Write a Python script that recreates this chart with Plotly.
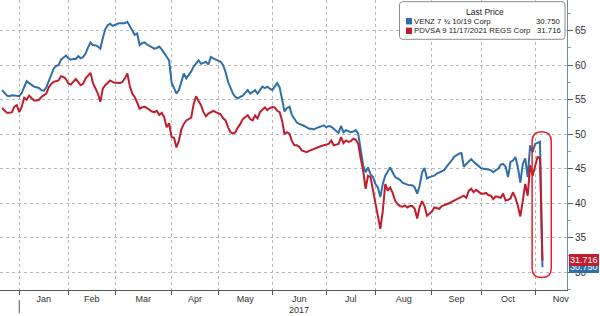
import plotly.graph_objects as go
import pandas as pd

# ---------------- data ----------------
START = "2016-12-21"
HOLIDAYS = ["2016-12-26", "2017-01-02", "2017-01-16", "2017-02-20", "2017-04-14",
            "2017-05-29", "2017-07-04", "2017-09-04", "2017-11-23", "2017-12-25"]

venz = [
    56.4, 56.0, 55.6, 55.5, 55.65, 55.6, 55.6, 55.5, 56.0, 56.8,
    57.7, 57.4, 57.1, 56.9, 56.8, 56.7, 56.4, 56.3, 56.8, 57.8,
    58.8, 59.5, 59.9, 60.0, 60.8, 61.1, 61.4, 61.0, 60.8, 60.9,
    60.9, 61.3, 61.0, 61.2, 61.7, 62.6, 63.3, 62.9, 62.9, 62.7,
    62.4, 63.9, 65.2, 65.8, 66.0, 65.7, 65.9, 66.0, 66.1, 66.1,
    66.1, 66.3, 65.6, 65.0, 64.4, 64.6, 62.9, 63.2, 63.3, 63.0,
    62.8, 62.6, 62.4, 62.5, 62.7, 62.3, 61.7, 61.2, 60.7, 57.5,
    56.6, 55.9, 56.4, 57.5, 58.8, 58.1, 58.6, 59.1, 59.8, 60.2,
    60.7, 60.2, 60.4, 60.5, 60.1, 61.2, 61.0, 60.8, 60.7, 60.5,
    60.0, 59.0, 57.6, 56.6, 55.9, 55.4, 55.2, 55.4, 55.6, 56.0,
    56.4, 55.9, 56.1, 56.4, 55.9, 56.5, 56.9, 56.7, 56.9, 56.6,
    56.4, 56.9, 57.4, 56.8, 55.0, 53.3, 53.8, 54.0, 52.8, 52.3,
    51.7, 51.5, 51.4, 51.2, 51.0, 50.8, 50.8, 50.7, 50.9, 51.0,
    51.2, 51.3, 51.0, 51.2, 51.1, 50.8, 50.5, 50.2, 51.2, 50.3,
    50.6, 50.5, 50.3, 50.4, 50.6, 50.1, 48.0, 45.5, 44.5, 45.2,
    44.2, 43.8, 42.8, 42.3, 40.9, 42.8, 44.0, 44.6, 45.2, 44.5,
    43.8, 43.6, 43.4, 43.0, 42.8, 42.7, 42.6, 42.6, 42.3, 41.4,
    42.5, 44.5, 45.1, 43.6, 43.8, 43.9, 44.0, 44.3, 44.5, 44.6,
    44.8, 45.3, 45.7, 46.2, 46.7, 47.0, 47.2, 47.3, 45.3, 45.7,
    46.0, 46.4, 46.0, 45.7, 45.3, 45.1, 45.0, 45.0, 44.9, 44.8,
    44.5, 44.8, 45.0, 45.6, 45.7, 45.3, 43.8, 46.0, 46.2, 46.7,
    45.2, 43.0, 45.7, 46.5, 43.8, 48.4, 47.4, 48.6, 48.7, 48.9,
    30.75,
]

pdvsa = [
    53.8, 53.5, 53.1, 53.1, 53.2, 54.0, 54.2, 53.2, 54.0, 55.3,
    55.0, 55.6, 55.2, 54.9, 54.9, 55.0, 55.4, 55.6, 55.9, 56.8,
    57.3, 57.6, 57.7, 57.8, 58.4, 58.3, 58.0, 57.35, 57.2, 57.6,
    58.0, 57.6, 57.1, 57.3, 58.1, 58.5, 58.9, 57.4, 56.6, 55.9,
    54.7, 56.6, 57.1, 57.4, 57.8, 57.6, 57.45, 57.45, 57.4, 57.6,
    58.1, 58.8, 57.0, 55.9, 55.4, 54.6, 53.7, 53.9, 54.0, 53.8,
    53.5, 53.3, 53.2, 53.4, 52.8, 53.1, 52.5, 51.0, 51.6, 49.6,
    49.5, 48.1, 49.1, 50.7, 51.5, 52.0, 52.2, 52.4, 54.4, 55.5,
    54.8, 54.2, 53.2, 52.6, 53.0, 53.2, 53.4, 53.2, 53.1, 52.9,
    52.3, 52.0, 51.0, 50.3, 50.1, 50.3, 51.0, 51.5, 52.2, 52.5,
    52.75, 52.2, 52.0, 52.7, 52.3, 53.2, 53.5, 53.9, 53.5, 53.8,
    53.95, 53.9, 53.4, 53.2, 52.0, 50.0, 50.3, 50.1, 49.0, 48.4,
    48.4, 48.2, 47.65, 47.5, 47.4, 47.6, 47.75, 47.9, 48.1, 48.2,
    48.3, 48.4, 48.5, 48.6, 49.1, 48.4, 48.5, 48.6, 49.6, 48.7,
    49.1, 48.9, 49.0, 49.35, 49.2, 48.6, 46.5, 44.75, 42.1, 44.0,
    43.8, 41.85, 39.9, 38.5, 36.3, 38.9, 42.8, 41.85, 42.3, 41.5,
    40.4, 39.9, 39.6, 39.5, 39.7, 39.4, 39.6, 39.6, 39.2, 37.8,
    39.5, 40.3, 39.6, 38.2, 38.5, 38.8, 39.4, 39.3, 39.2, 39.6,
    39.7, 39.9, 40.0, 40.2, 40.4, 40.6, 40.8, 41.0, 41.1, 40.8,
    41.8, 42.1, 41.6, 41.95, 41.6, 41.4, 41.4, 41.5, 41.2, 41.1,
    40.6, 41.0, 40.9, 40.8, 41.4, 40.4, 40.5, 40.7, 41.6, 40.8,
    39.6, 38.1, 40.4, 42.8, 41.1, 45.5, 44.0, 45.5, 46.7, 46.6,
    31.716,
]

MONTH_LABELS = ["Jan", "Feb", "Mar", "Apr", "May", "Jun", "Jul", "Aug", "Sep", "Oct", "Nov"]
YEAR_LABEL = "2017"
Y_TICKS = [30, 35, 40, 45, 50, 55, 60, 65]
SERIES_NAMES = ["VENZ 7 \u00be 10/19 Corp", "PDVSA 9 11/17/2021 REGS Corp"]
LAST_LABELS = ["30.750", "31.716"]
LEGEND_TITLE = "Last Price"

# ---------------- trading-day axis ----------------
days = pd.bdate_range(START, "2017-12-29", freq="C", holidays=HOLIDAYS)
n = len(venz)
dates = days[:n]
xs = list(range(n))

month_start = []
for m in range(1, 13):
    pos = [i for i, d in enumerate(days) if d.year == 2017 and d.month == m]
    month_start.append(pos[0])
bounds = month_start[:11]
label_pos = [(month_start[i] + month_start[i + 1]) / 2 for i in range(11)]

BLUE = "#2f6ea6"
RED = "#c01d2e"
COLORS = [BLUE, RED]
FONT = "Liberation Sans, Arial, sans-serif"

fig = go.Figure()
for vals, name, col in zip([venz, pdvsa], SERIES_NAMES, COLORS):
    fig.add_trace(go.Scatter(x=xs, y=vals, mode="lines", name=name,
                             line=dict(color=col, width=2),
                             customdata=dates.strftime("%Y-%m-%d"), showlegend=False,
                             hovertemplate="%{customdata}<br>%{y}<extra></extra>"))

GRID = "#b8b8b8"
PW, PH = 567.0, 290.0  # plot area size in px
fig.update_layout(
    width=600, height=316,
    margin=dict(l=0, r=33, t=0, b=26),
    paper_bgcolor="white", plot_bgcolor="white",
    font=dict(family=FONT, size=10, color="#333"),
    showlegend=False,
    xaxis=dict(
        range=[-0.85, 230.0],
        tickmode="array", tickvals=label_pos, ticktext=MONTH_LABELS,
        ticks="", showgrid=False, zeroline=False,
        showline=True, linecolor="#555", linewidth=1,
        tickfont=dict(size=9, color="#333"),
        minor=dict(tickmode="array", tickvals=bounds, ticks="outside", ticklen=4,
                   tickcolor="#555", showgrid=True, gridcolor=GRID, griddash="dot", gridwidth=1),
    ),
    yaxis=dict(
        side="right", range=[27.44, 69.45],
        tickmode="array", tickvals=Y_TICKS,
        ticks="outside", ticklen=5, tickcolor="#3d6386", tickwidth=1,
        showline=True, linecolor="#6f8aa3", linewidth=1,
        showgrid=True, gridcolor=GRID, griddash="dot", gridwidth=1,
        zeroline=False,
        tickfont=dict(size=10, color="#333"),
        minor=dict(dtick=2.5, tick0=0, ticks="outside", ticklen=3, tickcolor="#8aa0b4", showgrid=False),
    ),
)

# ---------------- legend box (Bloomberg style) ----------------
def px_x(p):
    return p / PW

def px_y(p):
    return 1 - p / PH

bx0, bx1, by0, by1, r = 399.5, 565.0, 1.7, 39.3, 3.0
lp = (f"M {px_x(bx0 + r)},{px_y(by0)} L {px_x(bx1 - r)},{px_y(by0)} "
      f"Q {px_x(bx1)},{px_y(by0)} {px_x(bx1)},{px_y(by0 + r)} "
      f"L {px_x(bx1)},{px_y(by1 - r)} Q {px_x(bx1)},{px_y(by1)} {px_x(bx1 - r)},{px_y(by1)} "
      f"L {px_x(bx0 + r)},{px_y(by1)} Q {px_x(bx0)},{px_y(by1)} {px_x(bx0)},{px_y(by1 - r)} "
      f"L {px_x(bx0)},{px_y(by0 + r)} Q {px_x(bx0)},{px_y(by0)} {px_x(bx0 + r)},{px_y(by0)} Z")
fig.add_shape(type="path", path=lp, xref="paper", yref="paper",
              fillcolor="white", line=dict(color="#8c8c8c", width=1), layer="above")
fig.add_annotation(x=px_x(485), y=px_y(11.5), xref="paper", yref="paper",
                   text=LEGEND_TITLE, showarrow=False, xanchor="center", yanchor="middle",
                   borderpad=0, borderwidth=0,
                   font=dict(family=FONT, size=8.5, color="#222"))
for k, (name, last, col) in enumerate(zip(SERIES_NAMES, LAST_LABELS, COLORS)):
    ry_ = 21.2 + 9.6 * k
    fig.add_shape(type="rect", xref="paper", yref="paper",
                  x0=px_x(406), x1=px_x(412), y0=px_y(ry_ - 3.2), y1=px_y(ry_ + 3.2),
                  fillcolor=col, line=dict(width=0), layer="above")
    fig.add_annotation(x=px_x(414), y=px_y(ry_), xref="paper", yref="paper",
                       text=name, showarrow=False, xanchor="left", yanchor="middle",
                       borderpad=0, borderwidth=0,
                       font=dict(family=FONT, size=7.8, color="#222"))
    fig.add_annotation(x=px_x(561), y=px_y(ry_), xref="paper", yref="paper",
                       text=last, showarrow=False, xanchor="right", yanchor="middle",
                       borderpad=0, borderwidth=0,
                       font=dict(family=FONT, size=7.8, color="#222"))

# year label and year-boundary tick
fig.add_annotation(x=label_pos[5], y=0, xref="x", yref="paper", yshift=-13,
                   text=YEAR_LABEL, showarrow=False, font=dict(size=9, color="#333"),
                   yanchor="top")
fig.add_shape(type="line", xref="x", yref="paper", x0=bounds[0], x1=bounds[0],
              y0=-0.035, y1=-0.08, line=dict(color="#555", width=1))

# last-price labels
fig.add_annotation(x=1, y=venz[-1], xref="paper", yref="y", xanchor="left", yanchor="middle",
                   xshift=2, text=LAST_LABELS[0], showarrow=False, bgcolor=BLUE,
                   font=dict(family=FONT, size=9, color="white"), borderpad=1, borderwidth=0)
fig.add_annotation(x=1, y=pdvsa[-1], xref="paper", yref="y", xanchor="left", yanchor="middle",
                   xshift=2, text=LAST_LABELS[1], showarrow=False, bgcolor=RED,
                   font=dict(family=FONT, size=9, color="white"), borderpad=1, borderwidth=0)

# highlight around the final collapse
cx0, cx1 = n - 1 - 4.2, n - 1 + 3.6
cy0, cy1 = 29.24, 50.35
rx = (cx1 - cx0) / 2
ry = rx * 2.456 / 6.9
xc = (cx0 + cx1) / 2
path = (f"M {cx0},{cy1 - ry} L {cx0},{cy0 + ry} Q {cx0},{cy0} {xc},{cy0} "
        f"Q {cx1},{cy0} {cx1},{cy0 + ry} L {cx1},{cy1 - ry} Q {cx1},{cy1} {xc},{cy1} "
        f"Q {cx0},{cy1} {cx0},{cy1 - ry} Z")
fig.add_shape(type="path", path=path, xref="x", yref="y",
              line=dict(color="#e0202a", width=1.5))

fig.write_html("out.html")
